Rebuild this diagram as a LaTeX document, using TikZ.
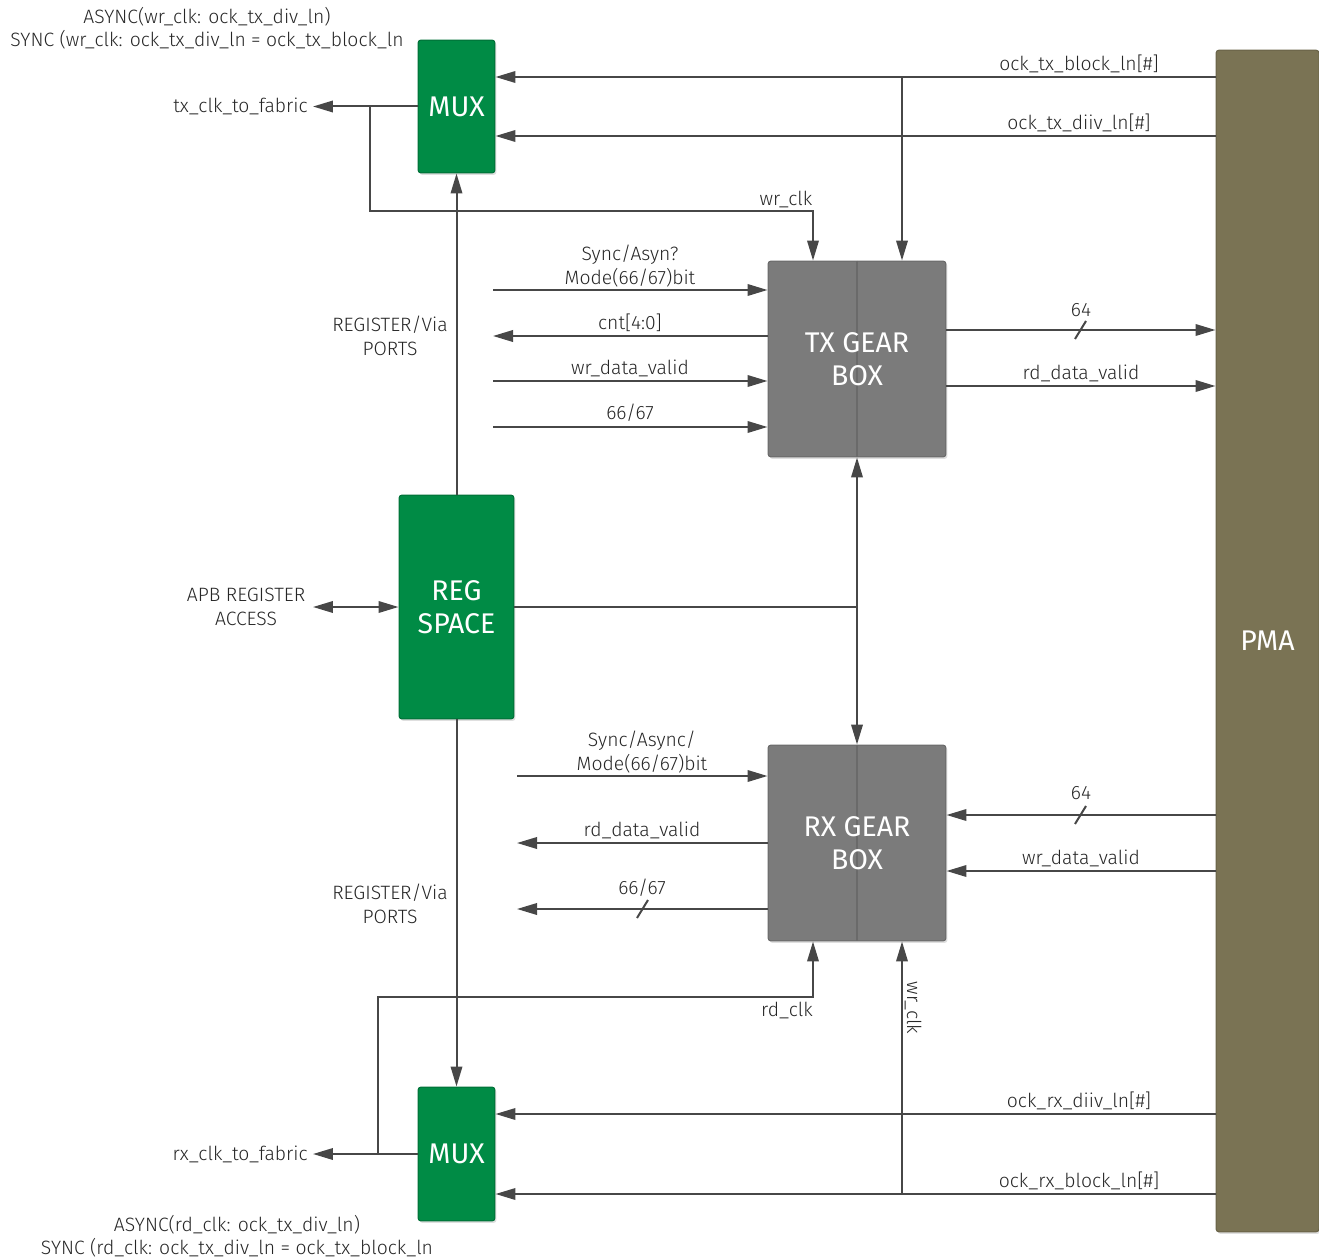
\documentclass[tikz,border=0pt]{standalone}
\usepackage{fontspec}
\setmainfont{Fira Sans Light}
\newfontfamily\blkfont{Fira Sans}
\usetikzlibrary{arrows.meta}
\usetikzlibrary{shadows}
\definecolor{bgreen}{HTML}{008B45}
\definecolor{bgray}{HTML}{7B7B7B}
\definecolor{dgray}{HTML}{6A6A6A}
\definecolor{pmac}{HTML}{7A7354}
\definecolor{wirec}{HTML}{474747}

\begin{document}
\begin{tikzpicture}[x=0.02cm,y=-0.02cm,
  >={Triangle[length=4mm,width=2.3mm]},
  wire/.style={draw=wirec,line width=0.4mm},
  lbl/.style={text=black!85,font=\fontsize{11}{13.3}\selectfont,align=center},
  blk/.style={rectangle,rounded corners=0.6mm,fill=bgreen,draw=bgreen!80!black,line width=0.2mm,
    text=white,font=\blkfont\fontsize{16.2}{18.7}\selectfont,align=center,inner sep=0pt,
    drop shadow={shadow xshift=0.3mm,shadow yshift=-0.4mm,opacity=0.25}},
  gbox/.style={blk,fill=bgray,draw=bgray!85!black},
  pmabox/.style={blk,fill=pmac,draw=pmac!85!black}]

\useasboundingbox (0,0) rectangle (1319,1257);

% blocks
\node[blk,minimum width=1.54cm,minimum height=2.66cm] (muxtx) at (456.5,106.5) {MUX};
\node[gbox,minimum width=3.56cm,minimum height=3.92cm] (txgb) at (857,359) {};
\node[blk,minimum width=2.3cm,minimum height=4.48cm] (reg) at (456.5,607) {REG\\SPACE};
\node[gbox,minimum width=3.56cm,minimum height=3.92cm] (rxgb) at (857,843) {};
\node[blk,minimum width=1.54cm,minimum height=2.68cm] (muxrx) at (456.5,1154) {MUX};
\node[pmabox,minimum width=2.06cm,minimum height=23.64cm] (pma) at (1267.5,641) {PMA};

\draw[dgray,line width=0.5mm] (txgb.north) -- (txgb.south);
\draw[dgray,line width=0.5mm] (rxgb.north) -- (rxgb.south);
\node[text=white,font=\blkfont\fontsize{16.2}{18.7}\selectfont,align=center] (txgbl) at (txgb) {TX GEAR\\BOX};
\node[text=white,font=\blkfont\fontsize{16.2}{18.7}\selectfont,align=center] (rxgbl) at (rxgb) {RX GEAR\\BOX};

% free ends
\coordinate (txblk) at (902,77);
\coordinate (wrtap) at (370,106.5);
\coordinate (wrturn) at (813,211);
\coordinate (txmode) at (493,290);
\coordinate (txcnt) at (493,336);
\coordinate (txwv) at (493,381);
\coordinate (txdat) at (493,427);
\coordinate (rxmode) at (517,776);
\coordinate (rxrdv) at (517,843);
\coordinate (rxdat) at (517,909);
\coordinate (rdtap) at (378,1154);
\coordinate (rdturn) at (813,997);
\coordinate (rxblk) at (902,1194);

% tx side clocks
\draw[wire,->] (pma.west |- txblk) -- (muxtx.east |- txblk);
\draw[wire,->] (txblk) -- (txblk |- txgb.north);
\draw[wire,->] (pma.west |- 0,136) -- (muxtx.east |- 0,136);
\node[lbl,anchor=east,inner sep=0.1cm] (txfab) at (313,106.5) {tx\_clk\_to\_fabric};
\draw[wire,->] (muxtx.west) -- (txfab);
\draw[wire,->] (wrtap) |- (wrturn) -- (wrturn |- txgb.north);
\draw[wire,->] (reg.north) -- (muxtx.south);

\node[lbl] (txblkl) at (1079,64) {ock\_tx\_block\_ln[\#]};
\node[lbl] (txdivl) at (1079,123) {ock\_tx\_diiv\_ln[\#]};
\node[lbl] (wrclkl) at (786,199) {wr\_clk};
\node[lbl] (regtxl) at (390,336) {REGISTER/Via\\PORTS};

% tx gear box ports
\draw[wire,->] (txmode) -- (txmode -| txgb.west);
\draw[wire,->] (txcnt -| txgb.west) -- (txcnt);
\draw[wire,->] (txwv) -- (txwv -| txgb.west);
\draw[wire,->] (txdat) -- (txdat -| txgb.west);
\node[lbl,anchor=south,inner sep=0pt] (txmodel) at (630,287) {Sync/Asyn?\\Mode(66/67)bit};
\node[lbl] (txcntl) at (630,323) {cnt[4:0]};
\node[lbl] (txwvl) at (630,368) {wr\_data\_valid};
\node[lbl] (txdatl) at (630,413) {66/67};

\draw[wire,->] (txgb.east |- 0,330) -- (pma.west |- 0,330);
\draw[wire] (1075,339) -- (1086,321);
\node[lbl] (tx64l) at (1081,310) {64};
\draw[wire,->] (txgb.east |- 0,386) -- (pma.west |- 0,386);
\node[lbl] (txrdvl) at (1081,373) {rd\_data\_valid};

% register space
\draw[wire,<->] (txgb.south) -- (rxgb.north);
\draw[wire] (reg.east) -- (reg.east -| txgb.south);
\node[lbl,anchor=east,inner sep=0.15cm] (apb) at (313,607) {APB REGISTER\\ACCESS};
\draw[wire,<->] (apb) -- (reg.west);
\draw[wire,->] (reg.south) -- (muxrx.north);
\node[lbl] (regrxl) at (390,904) {REGISTER/Via\\PORTS};

% rx gear box ports
\draw[wire,->] (rxmode) -- (rxmode -| rxgb.west);
\draw[wire,->] (rxrdv -| rxgb.west) -- (rxrdv);
\draw[wire,->] (rxdat -| rxgb.west) -- (rxdat);
\draw[wire] (637,918) -- (648,900);
\node[lbl,anchor=south,inner sep=0pt] (rxmodel) at (642,773) {Sync/Async/\\Mode(66/67)bit};
\node[lbl] (rxrdvl) at (642,830) {rd\_data\_valid};
\node[lbl] (rxdatl) at (642,888) {66/67};

\draw[wire,->] (pma.west |- 0,815) -- (rxgb.east |- 0,815);
\draw[wire] (1075,824) -- (1086,806);
\node[lbl] (rx64l) at (1081,793) {64};
\draw[wire,->] (pma.west |- 0,871) -- (rxgb.east |- 0,871);
\node[lbl] (rxwvl) at (1081,858) {wr\_data\_valid};

% rx side clocks
\draw[wire,->] (rdtap) |- (rdturn) -- (rdturn |- rxgb.south);
\node[lbl] (rdclkl) at (787,1010) {rd\_clk};
\draw[wire,->] (rxblk) -- (rxblk |- rxgb.south);
\node[lbl,rotate=-90] (wrclkr) at (913,1008) {wr\_clk};
\draw[wire,->] (pma.west |- 0,1114) -- (muxrx.east |- 0,1114);
\draw[wire,->] (pma.west |- rxblk) -- (muxrx.east |- rxblk);
\node[lbl] (rxdivl) at (1079,1101) {ock\_rx\_diiv\_ln[\#]};
\node[lbl] (rxblkl) at (1079,1181) {ock\_rx\_block\_ln[\#]};
\node[lbl,anchor=east,inner sep=0.1cm] (rxfab) at (313,1154) {rx\_clk\_to\_fabric};
\draw[wire,->] (muxrx.west) -- (rxfab);

% captions
\node[lbl] (capt) at (207,28) {ASYNC(wr\_clk: ock\_tx\_div\_ln)\\SYNC (wr\_clk: ock\_tx\_div\_ln = ock\_tx\_block\_ln};
\node[lbl] (capr) at (237,1236) {ASYNC(rd\_clk: ock\_tx\_div\_ln)\\SYNC (rd\_clk: ock\_tx\_div\_ln = ock\_tx\_block\_ln};

\end{tikzpicture}
\end{document}
